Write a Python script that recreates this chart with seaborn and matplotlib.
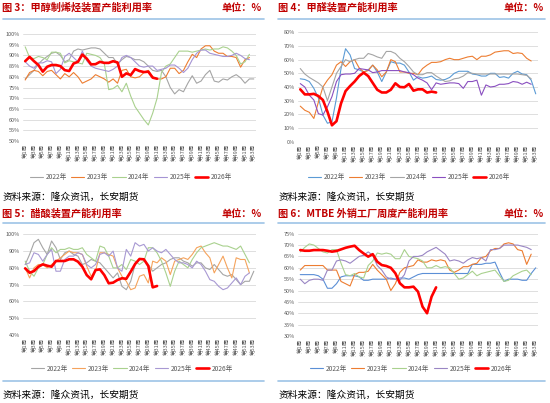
import numpy as np
import pandas as pd
import matplotlib
matplotlib.use("Agg")
from matplotlib import pyplot as plt
from matplotlib.lines import Line2D
import seaborn as sns

# ---------------- data ----------------
years = ["2022年", "2023年", "2024年", "2025年", "2026年"]
week_labels = [f"第{w}周" for w in range(1, 54, 2)]

# 图3 甲醇制烯烃
mto_2022 = [79, 81, 83, 86, 88, 89.5, 91, 91.5, 90, 87, 88, 92, 93, 92.5, 93, 93.5, 93.5, 93, 91, 89,
            89, 86, 88, 89.5, 89, 88, 88, 87, 85, 83, 82.5, 83, 80, 75, 72, 74, 73, 77, 80.5, 77,
            78, 81, 83, 78, 77.5, 79, 78.5, 80, 81, 79.5, 77, 79, 79]
mto_2023 = [78.5, 82, 83, 82.5, 80.5, 82.5, 83, 81, 79, 81.5, 80, 82, 80, 77, 78, 79, 81, 80, 79, 77.5,
            79, 77, 83, 83.5, 80, 79.5, 80, 82, 83, 80, 79, 79, 80, 84, 84, 81.5, 83, 87, 90.5, 89,
            93, 94.5, 94.5, 92, 91, 91, 89.5, 89.5, 89, 84.5, 88, 89]
mto_2024 = [94, 89, 88.5, 89.5, 89, 88, 91.5, 91.5, 91, 86.5, 87.5, 87, 86.5, 86, 91, 90.5, 90, 89, 86, 74,
            74.5, 76, 73, 77, 71, 66, 63, 60, 57.5, 63, 70, 82, 85, 86, 89, 92, 92, 92, 91.5, 92,
            92.5, 93, 92.5, 93, 93, 94, 93.5, 92, 90, 86, 87, 90.5]
mto_2025 = [87, 85, 84, 86.5, 86.5, 87.5, 87, 81.5, 83.5, 89.5, 91, 89, 87, 92, 87.5, 85, 84, 83.5, 83, 82.5,
            83.5, 85, 89, 90, 89, 87, 85, 84.5, 85, 85, 83, 83.5, 84, 85.5, 85.5, 84, 82, 84, 88, 91,
            92.5, 92.5, 91, 90.5, 90, 89.5, 89.5, 90, 91, 90, 88.5, 88]
mto_2026 = [87.3, 89.3, 87.3, 85.5, 82.4, 84.7, 85.5, 85.5, 85, 83.1, 82.7, 86.2, 87, 90.4, 88.5, 85.8,
            85.9, 87, 86.5, 86.5, 87.3, 86.7, 80, 81.6, 80.8, 83.6, 82.7, 82.2, 82.4, 79.6, 79.1]

# 图4 甲醛
hcho_2022 = [46, 45.5, 44, 39, 32, 19.5, 13.5, 14.5, 32, 53.5, 68, 63.5, 53.5, 52.5, 51, 52.5, 56, 51, 44, 51,
             58.5, 57.5, 57.5, 56, 51, 45, 47.5, 46.5, 47, 48, 45.5, 45, 45.5, 47, 50, 51.5, 51.5, 51.5, 49.5, 49,
             48, 48, 50, 50, 47, 47.5, 46.5, 50, 51.5, 49.5, 49, 45, 35]
hcho_2023 = [26, 23, 21.5, 17, 29, 40, 45, 49, 56, 58.5, 55, 58.5, 60, 54, 51, 52, 56, 52.5, 47.5, 51,
             60, 58.5, 51, 51, 50, 50, 49, 53.5, 56, 58, 58, 58.5, 60, 61, 60, 60, 61, 62, 62.5, 60,
             62.5, 62.5, 63.5, 65.5, 66, 66.5, 66.5, 64.5, 65, 64.5, 61, 59]
hcho_2024 = [53.5, 49.5, 47, 45, 43, 40, 30, 40, 50, 55, 60, 58.5, 60, 61, 61, 64.5, 63.5, 62, 61, 66,
             66, 64.5, 61, 58.5, 55, 51, 49, 49, 50.5, 50.5, 48, 46, 44, 44.5, 46, 46.5, 48, 50.5, 50, 49.5,
             49.5, 49.5, 49.5, 49.5, 49.5, 49.5, 49.5, 49.5, 49.5, 49, 48.5, 46]
hcho_2025 = [42.5, 40, 34, 30.5, 20.5, 19.5, 25.5, 33, 44, 49, 49.5, 49.5, 50, 53.5, 53, 52.5, 50.5, 51, 52, 52,
             52, 52, 52, 51, 50.5, 49, 46.5, 45, 43, 38, 43, 42, 42.5, 43, 43, 42.5, 39, 44, 44, 45,
             34, 41.5, 40, 40.5, 42, 42, 42.5, 44, 43.5, 42, 43.5, 42]
hcho_2026 = [38.3, 34.6, 34.6, 35, 33.4, 30.5, 22, 12, 15, 28, 37, 40.7, 44, 48, 50.5, 48,
             43, 38, 36, 36, 38, 42.7, 40, 39.8, 42.2, 37.3, 38.3, 38.3, 35.9, 36.6, 36]

# 图5 醋酸
acetic_2022 = [82, 88, 95, 97, 92, 88, 96, 92, 85, 89, 90, 88, 87, 82, 83, 85, 84, 83, 80, 77,
               74, 77, 69, 67, 72, 82, 85, 85, 82, 78, 80, 82, 83, 85, 86, 86, 84, 83, 81, 83,
               83, 80, 79, 82, 79, 76, 75, 76, 73, 70, 72, 72, 78]
acetic_2023 = [80, 74, 80, 82, 82, 80, 82, 84, 86, 88, 90, 89, 89, 88, 81, 75, 78, 89, 89, 88,
               87, 80, 75, 72, 67, 68, 75, 76, 71, 84, 83, 86, 84, 76, 84, 85, 86, 85, 88, 92,
               93, 89, 86, 77, 82, 87, 80, 74, 86, 85, 85, 77]
acetic_2024 = [84, 78, 75, 80, 82, 88, 92, 89, 91, 91, 92, 91, 91, 92, 88, 86, 84, 93, 92, 87,
               80, 80, 82, 79, 85, 84, 82, 84, 92, 92, 89, 84, 77, 69, 78, 84, 82, 80, 85, 89,
               92, 93, 94, 95, 94, 93, 93, 92, 91, 93, 88, 83]
acetic_2025 = [82, 83, 89, 88, 84, 88, 91, 78, 78, 85, 87, 87, 89, 88, 82, 80, 82, 88, 89, 87,
               90, 80, 78, 91, 87, 95, 93, 94, 90, 92, 90, 89, 91, 88, 85, 83, 83, 82, 80, 84,
               82, 78, 73, 72, 69, 67, 68, 71, 74, 70, 75, 77]
acetic_2026 = [79.7, 77.1, 78.1, 80.7, 82.1, 81.3, 80.7, 84.1, 84.1, 84.1, 85.1, 85.1, 83.7, 80.7, 75.7, 73.2,
               78.7, 79.1, 75.7, 70.8, 71.2, 72.8, 73.8, 73.5, 77.7, 82.3, 85.3, 85.1, 81.1, 68.4, 69.2]

# 图6 MTBE
mtbe_2022 = [57, 57, 57, 57, 56.5, 55, 51, 51, 53, 56, 56.5, 56.5, 56.5, 56, 54.5, 54.5, 55, 55, 55, 55,
             55.5, 55, 55.5, 55.5, 55, 56, 57, 57.5, 57.5, 57.5, 57.5, 57.5, 57.5, 57.5, 57.5, 57.5, 57.5, 57.5,
             61.5, 61.5, 61.5, 62, 62, 62.5, 58, 54, 55, 55, 55, 54.5, 54.5, 57.5, 60]
mtbe_2023 = [59, 61, 61, 61, 61, 61, 59, 59, 59, 54, 53, 52, 57, 58, 58, 58.5, 61.5, 59, 57, 55,
             50, 53, 58, 60, 60.5, 61, 63.5, 62.5, 62.5, 63.5, 63, 63.5, 63, 59, 58, 59, 60.5, 60.5, 61.5, 62,
             64.5, 65, 67.5, 68.5, 68.5, 70.5, 71, 70.5, 68, 67.5, 61.5, 66]
mtbe_2024 = [67, 69, 70.5, 70, 68.5, 67, 66.5, 68, 68, 62, 57, 56.5, 57.5, 56, 55.5, 61, 63, 66.5, 66, 66.5,
             66, 64, 64, 68, 65, 64.5, 64, 63, 60, 60, 61, 60, 60.5, 60, 57.5, 55, 55.5, 57, 58.5, 56.5,
             57.5, 58, 58.5, 59, 56.5, 54, 54.5, 56.5, 57.5, 58.5, 59, 57]
mtbe_2025 = [55, 53, 54.5, 55, 55, 54.5, 59, 59, 63, 63.5, 63, 62, 63.5, 65, 65.5, 67, 65.5, 61, 59, 56,
             55, 55, 54.5, 57, 63, 65, 65, 65.5, 67, 68, 69, 67.5, 66, 63, 63.5, 63, 62, 63.5, 64.5, 64,
             64.5, 63, 68, 68, 68.5, 70, 70, 70, 70, 69.5, 69, 68]
mtbe_2026 = [67.8, 67.5, 67.5, 67.8, 67.8, 67.8, 67.5, 67.1, 67.4, 68.1, 68.8, 69.3, 69.7, 67.8, 66.3, 64.9,
             66, 62.7, 61.2, 60.8, 60, 57.6, 53.2, 51.4, 51.4, 51.7, 49.5, 42.9, 40, 47.3, 51.4]

# ---------------- figure ----------------
sns.set_theme(style="white")
plt.rcParams["font.family"] = ["Noto Sans CJK SC", "DejaVu Sans"]

W, H = 550, 403
fig = plt.figure(figsize=(W / 100, H / 100), dpi=100)


def fx(px):
    return px / W


def fy(py):
    return 1 - py / H


def draw_panel(rect, series, colors, yticks, legend_xy):
    left, top, right, bottom = rect
    ax = fig.add_axes([fx(left), fy(bottom), fx(right - left), (bottom - top) / H])
    for name, vals, c in zip(years, series, colors):
        lw = 1.9 if name == "2026年" else 0.8
        sns.lineplot(x=np.arange(1, len(vals) + 1), y=vals, ax=ax, color=c,
                     linewidth=lw, label=name)
    ax.set_xlim(0.5, 53.5)
    ax.set_ylim(yticks[0], yticks[-1])
    ax.set_yticks(yticks)
    ax.set_yticklabels([f"{t}%" for t in yticks], fontsize=4, color="#595959")
    ax.set_xticks(range(1, 54, 2))
    ax.set_xticklabels(week_labels, rotation=90, fontsize=4, color="#595959", va="top")
    ax.tick_params(length=0, pad=2)
    ax.yaxis.grid(True, color="#D9D9D9", linewidth=0.6)
    ax.xaxis.grid(False)
    for s in ax.spines.values():
        s.set_visible(False)
    ax.set_xlabel("")
    ax.set_ylabel("")
    ax.legend(loc="center", bbox_to_anchor=(fx(legend_xy[0]), fy(legend_xy[1])),
              bbox_transform=fig.transFigure, ncol=5, frameon=False, fontsize=4.8,
              handlelength=2.0, columnspacing=0.6, handletextpad=0.4, labelcolor="#595959")
    return ax


draw_panel((23, 34, 256, 141), [mto_2022, mto_2023, mto_2024, mto_2025, mto_2026],
           ["#A5A5A5", "#ED7D31", "#A9D18E", "#A594D4", "#FF0000"],
           list(range(50, 101, 5)), (131, 177))
draw_panel((298, 32.3, 538, 141.7), [hcho_2022, hcho_2023, hcho_2024, hcho_2025, hcho_2026],
           ["#5B9BD5", "#ED7D31", "#A5A5A5", "#8A4FC0", "#FF0000"],
           list(range(0, 81, 10)), (409, 177))
draw_panel((23, 234.3, 256, 335), [acetic_2022, acetic_2023, acetic_2024, acetic_2025, acetic_2026],
           ["#A5A5A5", "#F5A35C", "#A9D18E", "#A899D3", "#FF0000"],
           list(range(40, 101, 10)), (132, 368.5))
draw_panel((298, 233.7, 538, 336), [mtbe_2022, mtbe_2023, mtbe_2024, mtbe_2025, mtbe_2026],
           ["#5B8FD6", "#ED7D31", "#A9D18E", "#9A86C4", "#FF0000"],
           list(range(30, 76, 5)), (411, 368.5))

# titles, units, sources
red = "#C00000"
titles = [(2.5, 8, "图 3：甲醇制烯烃装置产能利用率", 262),
          (277.7, 8, "图 4：甲醛装置产能利用率", 544),
          (2.5, 214, "图 5：醋酸装置产能利用率", 262),
          (277.7, 214, "图 6：MTBE 外销工厂周度产能利用率", 544)]
for x, y, t, ux in titles:
    fig.text(fx(x), fy(y), t, color=red, fontsize=7.3, fontweight="bold", va="center", ha="left")
    fig.text(fx(ux), fy(y), "单位：%", color=red, fontsize=7.3, fontweight="bold",
             va="center", ha="right")

for x, y in [(3, 197), (279, 197), (3, 395), (279, 395)]:
    fig.text(fx(x), fy(y), "资料来源：隆众资讯，长安期货", color="black", fontsize=7,
             va="center", ha="left")

blue = "#9DC3E6"
for y in [18.6, 223, 380.5]:
    fig.add_artist(Line2D([fx(2.5), fx(263.5)], [fy(y), fy(y)], color=blue, lw=1.2))
    fig.add_artist(Line2D([fx(277.7), fx(545)], [fy(y), fy(y)], color=blue, lw=1.2))

fig.savefig("out.png", dpi=100)
